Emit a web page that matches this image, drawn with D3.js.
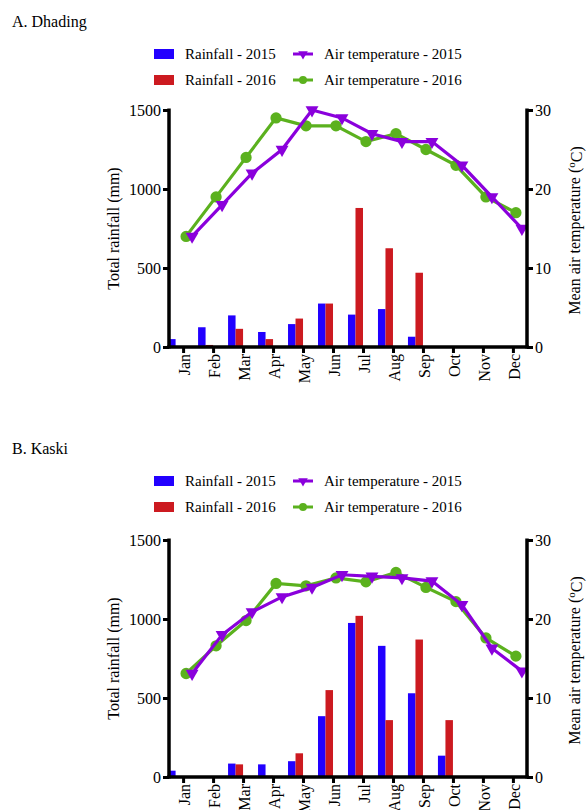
<!DOCTYPE html>
<html>
<head>
<meta charset="utf-8">
<script src="https://cdn.jsdelivr.net/npm/d3@7"></script>
<style>
  body { margin: 0; background: #fff; }
  text { font-family: "Liberation Serif", "Times New Roman", serif; fill: #000; }
</style>
</head>
<body>
<div id="chart"></div>
<script>

// months on the x axis
var months = ['Jan', 'Feb', 'Mar', 'Apr', 'May', 'Jun', 'Jul', 'Aug', 'Sep', 'Oct', 'Nov', 'Dec'];

// A. Dhading
var rainA2015 = [50, 125, 200, 95, 145, 275, 205, 240, 65, 0, 0, 0];
var rainA2016 = [0, 13, 115, 50, 180, 275, 880, 625, 470, 0, 0, 0];
var tempA2015 = [14, 18, 22, 25, 30, 29, 27, 26, 26, 23, 19, 15];
var tempA2016 = [14, 19, 24, 29, 28, 28, 26, 27, 25, 23, 19, 17];

// B. Kaski
var rainB2015 = [40, 0, 85, 80, 100, 385, 975, 830, 530, 135, 0, 0];
var rainB2016 = [0, 0, 80, 8, 150, 550, 1020, 360, 870, 360, 0, 0];
var tempB2015 = [13.1, 18.0, 20.9, 22.8, 24.0, 25.6, 25.4, 25.2, 24.8, 21.8, 16.3, 13.4];
var tempB2016 = [13.1, 16.6, 19.8, 24.5, 24.2, 25.2, 24.7, 25.9, 24.0, 22.2, 17.6, 15.3];

var rainTicks = [0, 500, 1000, 1500];
var tempTicks = [0, 10, 20, 30];

var colBlue = '#2200ff',
    colRed = '#cc1a20',
    colPurple = '#8a00dc',
    colGreen = '#5bb11e';

var width = 587,
    height = 810;

var svg = d3.select('#chart').append('svg')
    .attr('width', width)
    .attr('height', height);

var triangle = d3.symbol().type(d3.symbolTriangle).size(72);
var circle = d3.symbol().type(d3.symbolCircle).size(100);

var drawPanel = (top, headShift, title, rain15, rain16, temp15, temp16) => {

  var g = svg.append('g').attr('transform', 'translate(0,' + top + ')');

  var left = 169, right = 527, y0 = 110, y1 = 347;

  var x = d3.scalePoint().domain(months).range([left, right]).padding(0.47);
  var yRain = d3.scaleLinear().domain([0, 1500]).range([y1, y0]);
  var yTemp = d3.scaleLinear().domain([0, 30]).range([y1, y0]);

  // panel title
  g.append('text').attr('x', 12).attr('y', 27 + headShift).style('font-size', '16px').text(title);

  // legend
  var lg = g.append('g').attr('transform', 'translate(0,' + headShift + ')');
  var rows = [
    {label: 'Rainfall - 2015', col: colBlue, kind: 'bar', x: 154, y: 54},
    {label: 'Rainfall - 2016', col: colRed, kind: 'bar', x: 154, y: 80},
    {label: 'Air temperature - 2015', col: colPurple, kind: 'tri', x: 293, y: 54},
    {label: 'Air temperature - 2016', col: colGreen, kind: 'dot', x: 293, y: 80}
  ];
  rows.forEach(function(r) {
    if (r.kind == 'bar') {
      lg.append('rect').attr('x', r.x).attr('y', r.y - 5).attr('width', 20).attr('height', 10).attr('fill', r.col);
    } else {
      lg.append('line').attr('x1', r.x).attr('x2', r.x + 20).attr('y1', r.y).attr('y2', r.y)
        .attr('stroke', r.col).attr('stroke-width', 3);
      lg.append('path')
        .attr('d', r.kind == 'tri' ? d3.symbol().type(d3.symbolTriangle).size(40)() : d3.symbol().type(d3.symbolCircle).size(50)())
        .attr('transform', 'translate(' + (r.x + 10) + ',' + r.y + ')' + (r.kind == 'tri' ? ' rotate(180)' : ''))
        .attr('fill', r.col);
    }
    lg.append('text').attr('x', r.x + 31).attr('y', r.y).attr('dy', '0.35em')
      .style('font-size', '15px').text(r.label);
  });

  // bars
  var bw = 7.5;
  g.append('g').selectAll('rect')
    .data(rain15.map(function(v, i) { return {m: months[i], v: v}; }).filter(function(d) { return d.v > 0; }))
    .enter().append('rect')
      .attr('x', function(d) { return x(d.m) - 2 * bw; })
      .attr('y', function(d) { return yRain(d.v); })
      .attr('width', bw)
      .attr('height', function(d) { return y1 - yRain(d.v); })
      .attr('fill', colBlue);
  g.append('g').selectAll('rect')
    .data(rain16.map(function(v, i) { return {m: months[i], v: v}; }).filter(function(d) { return d.v > 0; }))
    .enter().append('rect')
      .attr('x', function(d) { return x(d.m) - bw; })
      .attr('y', function(d) { return yRain(d.v); })
      .attr('width', bw)
      .attr('height', function(d) { return y1 - yRain(d.v); })
      .attr('fill', colRed);

  // temperature lines
  var series = [
    {vals: temp16, col: colGreen, dx: 3, sym: 'dot'},
    {vals: temp15, col: colPurple, dx: 9, sym: 'tri'}
  ];
  series.forEach(function(s) {
    var pts = s.vals.map(function(v, i) { return {m: months[i], v: v}; });
    var line = d3.line()
      .x(function(d) { return x(d.m) + s.dx; })
      .y(function(d) { return yTemp(d.v); });
    g.append('path').datum(pts).attr('d', line)
      .attr('fill', 'none').attr('stroke', s.col).attr('stroke-width', 3.2);
    g.append('g').selectAll('path').data(pts).enter().append('path')
      .attr('d', s.sym == 'tri' ? triangle() : circle())
      .attr('transform', function(d) {
        return 'translate(' + (x(d.m) + s.dx) + ',' + yTemp(d.v) + ')' + (s.sym == 'tri' ? ' rotate(180)' : '');
      })
      .attr('fill', s.col);
  });

  // axes
  var axL = g.append('g').attr('transform', 'translate(' + left + ',0)')
    .call(d3.axisLeft(yRain).tickValues(rainTicks).tickSize(6).tickPadding(2).tickFormat(d3.format('d')));
  var axR = g.append('g').attr('transform', 'translate(' + right + ',0)')
    .call(d3.axisRight(yTemp).tickValues(tempTicks).tickSize(6).tickPadding(2).tickFormat(d3.format('d')));
  var axB = g.append('g').attr('transform', 'translate(0,' + y1 + ')')
    .call(d3.axisBottom(x).tickSize(6).tickPadding(2));

  [axL, axR, axB].forEach(function(a) {
    a.select('.domain').remove();
    a.selectAll('.tick line').attr('stroke', '#000').attr('stroke-width', 3);
    a.selectAll('.tick text').style('font-size', '16px').style('font-family', '"Liberation Serif", serif').attr('fill', '#000');
  });
  axB.selectAll('.tick text')
    .attr('text-anchor', 'end')
    .attr('transform', 'translate(1,0) rotate(-90)')
    .attr('x', -7).attr('y', 0).attr('dy', '0.35em');

  // axis lines
  g.append('line').attr('x1', left).attr('x2', left).attr('y1', y0 - 1.5).attr('y2', y1 + 1.5)
    .attr('stroke', '#000').attr('stroke-width', 3.5);
  g.append('line').attr('x1', right).attr('x2', right).attr('y1', y0 - 1.5).attr('y2', y1 + 1.5)
    .attr('stroke', '#000').attr('stroke-width', 3.5);
  g.append('line').attr('x1', left - 1.75).attr('x2', right + 1.75).attr('y1', y1).attr('y2', y1)
    .attr('stroke', '#000').attr('stroke-width', 3.5);

  // axis titles
  g.append('text')
    .attr('transform', 'translate(113,' + ((y0 + y1) / 2) + ') rotate(-90)')
    .attr('text-anchor', 'middle').attr('dy', '0.35em')
    .style('font-size', '16px')
    .text('Total rainfall (mm)');
  var rt = g.append('text')
    .attr('transform', 'translate(574,' + ((y0 + y1) / 2 + 2) + ') rotate(-90)')
    .attr('text-anchor', 'middle').attr('dy', '0.35em')
    .style('font-size', '16px');
  rt.append('tspan').text('Mean air temperature (');
  rt.append('tspan').attr('dy', '-0.45em').style('font-size', '11px').text('o');
  rt.append('tspan').attr('dy', '0.45em').text('C)');
};

drawPanel(0, 0, 'A.  Dhading', rainA2015, rainA2016, tempA2015, tempA2016);
drawPanel(430, -3, 'B.  Kaski', rainB2015, rainB2016, tempB2015, tempB2016);

</script>
</body>
</html>
